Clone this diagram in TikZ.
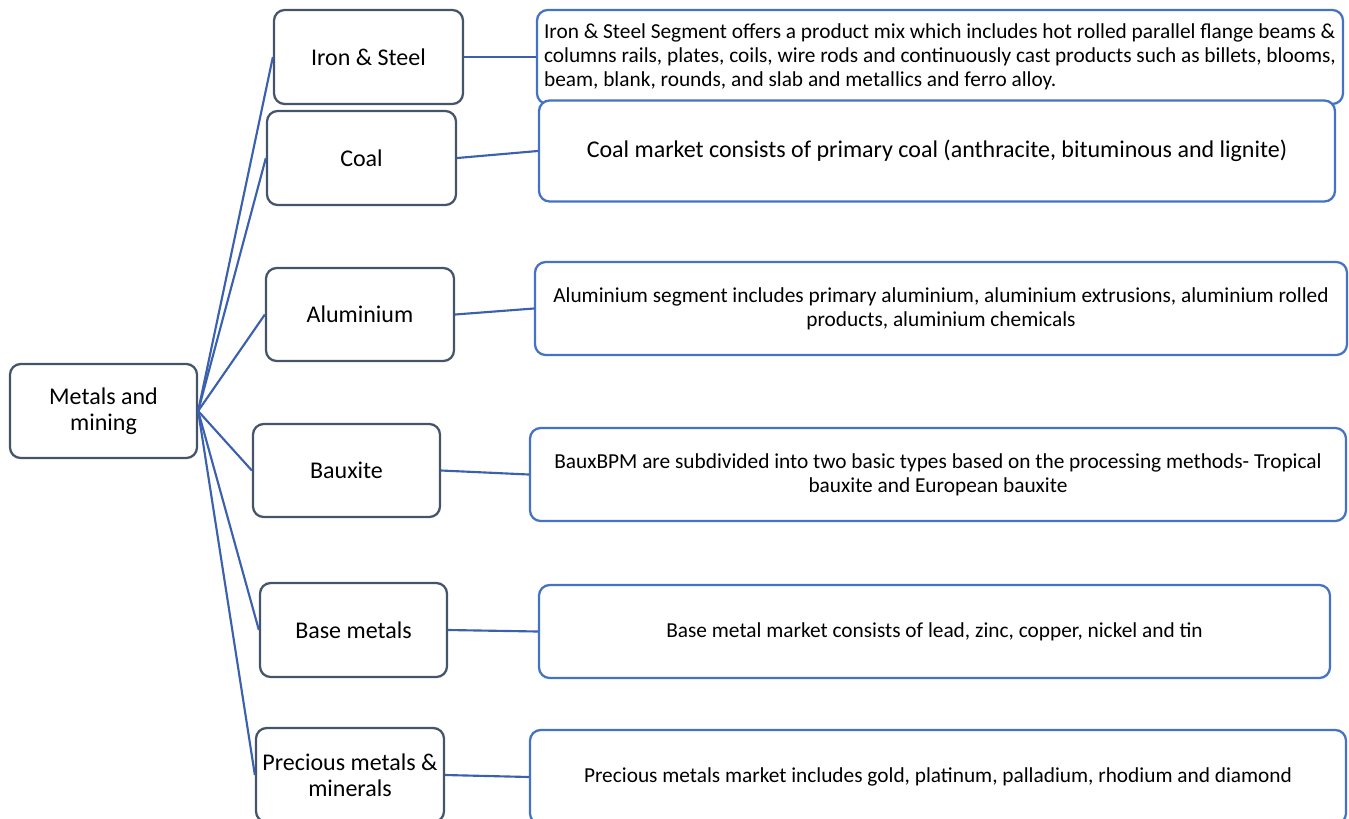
\documentclass[tikz,border=0pt]{standalone}
\usepackage{fontspec}
\setmainfont{Carlito}
\definecolor{slate}{HTML}{44546A}
\definecolor{accent}{HTML}{4472C4}
\definecolor{linkblue}{HTML}{3A60AE}
\begin{document}
\begin{tikzpicture}[x=0.75pt,y=-0.75pt,
  cat/.style={draw=slate,line width=1.7pt,rounded corners=8pt,fill=white,inner sep=0pt,align=center,font=\fontsize{18}{19.5}\selectfont},
  desc/.style={draw=accent,line width=1.7pt,rounded corners=8pt,fill=white,inner sep=0pt,align=center,font=\fontsize{16}{18}\selectfont},
  link/.style={draw=linkblue,line width=1.6pt}]
\clip (0,0) rectangle (1349,818);
\useasboundingbox (0,0) rectangle (1349,818);
\node[cat,minimum width=140.25pt,minimum height=70.5pt] (root) at (103.5,411) {Metals and\\mining};
\node[cat,minimum width=141.75pt,minimum height=70.5pt] (iron) at (368.5,57) {Iron \& Steel};
\node[cat,minimum width=141.75pt,minimum height=70.5pt] (coal) at (361.5,158) {Coal};
\node[cat,minimum width=141pt,minimum height=69.75pt] (alu) at (360,314.5) {Aluminium};
\node[cat,minimum width=140.25pt,minimum height=69.75pt] (baux) at (346.5,470.5) {Bauxite};
\node[cat,minimum width=140.25pt,minimum height=70.5pt] (base) at (353.5,630) {Base metals};
\node[cat,minimum width=141pt,minimum height=70.5pt] (prec) at (350,775) {Precious metals \&\\minerals};
\node[desc,minimum width=604.5pt,minimum height=70.5pt,align=left] (irond) at (940,57) {Iron \& Steel Segment offers a product mix which includes hot rolled parallel flange beams \&\\columns rails, plates, coils, wire rods and continuously cast products such as billets, blooms,\\beam, blank, rounds, and slab and metallics and ferro alloy.};
\node[desc,minimum width=597pt,minimum height=75.75pt,font=\fontsize{18}{20}\selectfont] (coald) at (937,151) {Coal market consists of primary coal (anthracite, bituminous and lignite)};
\node[desc,minimum width=609pt,minimum height=69.75pt] (alud) at (941,308.5) {Aluminium segment includes primary aluminium, aluminium extrusions, aluminium rolled\\products, aluminium chemicals};
\node[desc,minimum width=612pt,minimum height=69.75pt] (bauxd) at (938,474.5) {BauxBPM are subdivided into two basic types based on the processing methods- Tropical\\bauxite and European bauxite};
\node[desc,minimum width=593.25pt,minimum height=69.75pt] (based) at (934.5,631.5) {Base metal market consists of lead, zinc, copper, nickel and tin};
\node[desc,minimum width=612pt,minimum height=70.5pt] (precd) at (938,777) {Precious metals market includes gold, platinum, palladium, rhodium and diamond};
\foreach \m in {iron,coal,alu,baux,base,prec}{
  \draw[link] (root.east) -- (\m.west);
}
\draw[link] (iron.east) -- (irond.west);
\draw[link] (coal.east) -- (coald.west);
\draw[link] (alu.east) -- (alud.west);
\draw[link] (baux.east) -- (bauxd.west);
\draw[link] (base.east) -- (based.west);
\draw[link] (prec.east) -- (precd.west);
\end{tikzpicture}
\end{document}
